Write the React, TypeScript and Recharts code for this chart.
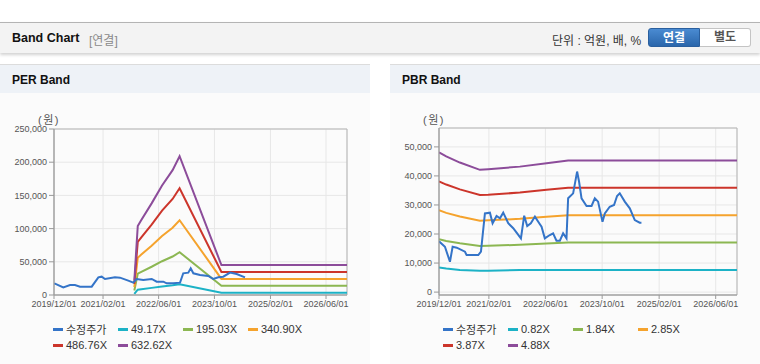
import React from "react";
import { LineChart, Line, XAxis, YAxis, CartesianGrid, ReferenceArea } from "recharts";

type Pt = [string, number];

const X_TICKS = ["2019-12-01", "2021-02-01", "2022-06-01", "2023-10-01", "2025-02-01", "2026-06-01"];
const X_START = "2019-12-01";
const X_END = "2026-12-01";

// PER band
const perPrice: Pt[] = [
  ["2019-12-04", 17600], ["2020-02-20", 11500], ["2020-04-19", 15000], ["2020-06-01", 15000],
  ["2020-07-15", 12500], ["2020-10-25", 12500], ["2020-12-22", 26600], ["2021-01-20", 27600],
  ["2021-02-18", 24100], ["2021-05-16", 26600], ["2021-06-29", 26100], ["2021-09-09", 21600],
  ["2021-10-23", 18600], ["2021-11-22", 24100], ["2022-01-18", 22600], ["2022-04-02", 24100],
  ["2022-05-15", 20000], ["2022-07-12", 20000], ["2022-08-10", 17600], ["2022-10-07", 17600],
  ["2022-12-05", 18600], ["2023-01-02", 32700], ["2023-02-15", 33700], ["2023-03-08", 40200],
  ["2023-03-31", 32700], ["2023-05-28", 30100], ["2023-08-08", 28600], ["2023-09-21", 24100],
  ["2023-11-04", 26600], ["2023-12-17", 27600], ["2024-02-14", 33700], ["2024-04-12", 31600],
  ["2024-06-24", 26600],
];
const perBandDates = ["2021-11-01", "2021-12-01", "2022-01-01", "2022-04-01", "2022-07-01", "2022-10-01", "2022-12-01", "2023-12-01", "2026-12-01"];
const per49 = [1690, 8080, 8780, 10720, 12820, 14610, 16240, 3500, 3500];
const per195 = [6690, 32060, 34830, 42540, 50870, 57960, 64440, 13870, 13870];
const per340 = [11690, 56040, 60880, 74350, 88910, 101320, 112630, 24240, 24240];
const per486 = [16700, 80020, 86940, 106160, 126950, 144670, 160830, 34610, 34610];
const per632 = [21700, 104000, 113000, 138000, 165000, 188000, 209000, 45000, 45000];

// PBR band
const pbrPrice: Pt[] = [
  ["2019-12-01", 17500], ["2020-01-21", 15600], ["2020-03-04", 10450], ["2020-03-27", 15600],
  ["2020-05-01", 15300], ["2020-07-11", 13900], ["2020-07-25", 12750], ["2020-11-02", 12750],
  ["2020-11-25", 13900], ["2020-12-29", 27100], ["2021-02-10", 27350], ["2021-03-05", 23700],
  ["2021-04-08", 26200], ["2021-05-07", 25400], ["2021-06-04", 27350], ["2021-07-17", 23700],
  ["2021-08-29", 22000], ["2021-11-03", 18500], ["2021-12-01", 26300], ["2021-12-27", 22750],
  ["2022-01-27", 23700], ["2022-03-03", 26000], ["2022-04-09", 23700], ["2022-04-29", 22500],
  ["2022-05-27", 18500], ["2022-07-09", 19650], ["2022-08-06", 20250], ["2022-09-04", 17700],
  ["2022-10-03", 17700], ["2022-10-31", 20250], ["2022-11-29", 18500], ["2022-12-13", 32300],
  ["2023-01-25", 34000], ["2023-02-28", 41500], ["2023-03-17", 38000], ["2023-04-07", 32300],
  ["2023-05-20", 29650], ["2023-07-02", 29650], ["2023-07-30", 32300], ["2023-08-27", 31150],
  ["2023-10-04", 24250], ["2023-10-24", 27100], ["2023-12-05", 29400], ["2024-01-11", 30000],
  ["2024-02-06", 33100], ["2024-02-29", 34000], ["2024-04-12", 31150], ["2024-05-25", 28850],
  ["2024-07-07", 24800], ["2024-08-18", 23900], ["2024-09-02", 23900],
];
const pbrBandDates = ["2019-12-01", "2020-02-01", "2020-05-28", "2020-11-16", "2021-01-26", "2021-10-25", "2022-06-11", "2022-12-13", "2026-12-01"];
const pbr082 = [8500, 8100, 7600, 7350, 7350, 7650, 7650, 7650, 7650];
const pbr184 = [18200, 17610, 16810, 15870, 15950, 16290, 16740, 17080, 17080];
const pbr285 = [28200, 27270, 26050, 24590, 24700, 25230, 25930, 26500, 26500];
const pbr387 = [38100, 37030, 35370, 33450, 33540, 34260, 35210, 35950, 35950];
const pbr488 = [48100, 46700, 44600, 42100, 42300, 43200, 44400, 45300, 45300];

const COLORS = {
  price: "#3474c8",
  b1: "#1cb2c6",
  b2: "#8cb752",
  b3: "#f5a32d",
  b4: "#cc352b",
  b5: "#8c4c9a",
};

const toTs = (s: string) => {
  const [y, m, d] = s.split("-").map(Number);
  return Date.UTC(y, m - 1, d);
};
const pad = (n: number) => (n < 10 ? "0" + n : "" + n);
const fmtDate = (t: number) => {
  const d = new Date(t);
  return `${d.getUTCFullYear()}/${pad(d.getUTCMonth() + 1)}/${pad(d.getUTCDate())}`;
};
const fromPairs = (p: Pt[]) => p.map(([s, v]) => ({ t: toTs(s), v }));
const fromCols = (dates: string[], vals: number[]) => dates.map((s, i) => ({ t: toTs(s), v: vals[i] }));

interface Series {
  name: string;
  color: string;
  data: { t: number; v: number }[];
}

const FONT = '"Liberation Sans", Arial, "Noto Sans CJK KR", sans-serif';
const tickStyle = { fill: "#555", fontSize: 9, fontFamily: FONT };

function BandPanel({
  left,
  title,
  series,
  yDomain,
  yTicks,
  yWidth,
  top,
}: {
  left: number;
  title: string;
  series: Series[];
  yDomain: [number, number];
  yTicks: number[];
  yWidth: number;
  top: number;
}) {
  const xMin = toTs(X_START);
  const xMax = toTs(X_END);
  // band lines first, price line on top
  const drawOrder = [...series.slice(1), series[0]];
  return (
    <div
      style={{
        position: "absolute",
        left,
        top: 64,
        width: 370,
        height: 299,
        background: "#fbfbfb",
        borderTop: "1px solid #dcdcdc",
        borderBottom: "1px solid #d4d4d4",
      }}
    >
      <div
        style={{
          height: 28,
          background: "#eef2f7",
          fontFamily: FONT,
          fontWeight: "bold",
          fontSize: 12,
          color: "#111",
          lineHeight: "30px",
          paddingLeft: 12,
        }}
      >
        {title}
      </div>
      <span
        style={{
          position: "absolute",
          left: yWidth - 16,
          top: 46,
          fontFamily: FONT,
          fontSize: 11,
          color: "#555",
          letterSpacing: 1.5,
        }}
      >
        (원)
      </span>
      <div style={{ position: "absolute", left: 0, top: 35 }}>
        <LineChart width={370} height={220} margin={{ top, right: 23, bottom: 0, left: 0 }}>
          <CartesianGrid stroke="#e7e7e7" />
          <ReferenceArea
            x1={xMin}
            x2={xMax}
            y1={yDomain[0]}
            y2={yDomain[1]}
            fill="none"
            fillOpacity={0}
            stroke="#b5b5b5"
            strokeOpacity={1}
          />
          <XAxis
            type="number"
            dataKey="t"
            domain={[xMin, xMax]}
            ticks={X_TICKS.map(toTs)}
            tickFormatter={fmtDate}
            interval={0}
            height={25}
            tickSize={4}
            tick={tickStyle}
            stroke="#999"
            allowDataOverflow
          />
          <YAxis
            type="number"
            dataKey="v"
            domain={yDomain}
            ticks={yTicks}
            tickFormatter={(v: number) => v.toLocaleString("en-US")}
            interval={0}
            width={yWidth}
            tickSize={5}
            tick={tickStyle}
            stroke="#999"
            allowDataOverflow
          />
          {drawOrder.map((s) => (
            <Line
              key={s.name}
              data={s.data}
              dataKey="v"
              name={s.name}
              type="linear"
              stroke={s.color}
              strokeWidth={2}
              dot={false}
              activeDot={false}
              isAnimationActive={false}
            />
          ))}
        </LineChart>
      </div>
      <div
        style={{
          position: "absolute",
          left: 53,
          top: 256,
          width: 300,
          display: "flex",
          flexWrap: "wrap",
          fontFamily: FONT,
          fontSize: 11,
          color: "#333",
        }}
      >
        {series.map((s) => (
          <div key={s.name} style={{ width: 65, height: 16, display: "flex", alignItems: "center" }}>
            <span style={{ display: "inline-block", width: 10, height: 3, background: s.color, marginRight: 3 }} />
            <span>{s.name}</span>
          </div>
        ))}
      </div>
    </div>
  );
}

export default function App() {
  const perSeries: Series[] = [
    { name: "수정주가", color: COLORS.price, data: fromPairs(perPrice) },
    { name: "49.17X", color: COLORS.b1, data: fromCols(perBandDates, per49) },
    { name: "195.03X", color: COLORS.b2, data: fromCols(perBandDates, per195) },
    { name: "340.90X", color: COLORS.b3, data: fromCols(perBandDates, per340) },
    { name: "486.76X", color: COLORS.b4, data: fromCols(perBandDates, per486) },
    { name: "632.62X", color: COLORS.b5, data: fromCols(perBandDates, per632) },
  ];
  const pbrSeries: Series[] = [
    { name: "수정주가", color: COLORS.price, data: fromPairs(pbrPrice) },
    { name: "0.82X", color: COLORS.b1, data: fromCols(pbrBandDates, pbr082) },
    { name: "1.84X", color: COLORS.b2, data: fromCols(pbrBandDates, pbr184) },
    { name: "2.85X", color: COLORS.b3, data: fromCols(pbrBandDates, pbr285) },
    { name: "3.87X", color: COLORS.b4, data: fromCols(pbrBandDates, pbr387) },
    { name: "4.88X", color: COLORS.b5, data: fromCols(pbrBandDates, pbr488) },
  ];

  return (
    <div style={{ position: "absolute", left: 0, top: 0, width: 760, height: 364, background: "#fff", overflow: "hidden" }}>
      {/* top header bar */}
      <div
        style={{
          position: "absolute",
          left: 0,
          top: 22,
          width: 760,
          height: 30,
          background: "#f3f3f3",
          borderTop: "1px solid #b4b4b4",
          boxShadow: "0 2px 3px rgba(0,0,0,0.18)",
          fontFamily: FONT,
        }}
      >
        <span style={{ position: "absolute", left: 12, top: 8, fontSize: 12.5, fontWeight: "bold", color: "#111" }}>
          Band Chart
        </span>
        <span style={{ position: "absolute", left: 89, top: 8, fontSize: 12, color: "#8a8a8a" }}>[연결]</span>
        <span style={{ position: "absolute", left: 552, top: 8, fontSize: 12, color: "#333" }}>단위 : 억원, 배, %</span>
        <div
          style={{
            position: "absolute",
            left: 648,
            top: 5,
            width: 52,
            height: 19,
            background: "linear-gradient(#4a8bd2, #2a66ab)",
            border: "1px solid #2a5f9e",
            borderRadius: "3px 0 0 3px",
            color: "#fff",
            fontWeight: "bold",
            fontSize: 12,
            textAlign: "center",
            lineHeight: "19px",
            boxSizing: "border-box",
          }}
        >
          연결
        </div>
        <div
          style={{
            position: "absolute",
            left: 700,
            top: 5,
            width: 51,
            height: 19,
            background: "#fff",
            border: "1px solid #c4c4c4",
            borderLeft: "none",
            borderRadius: "0 3px 3px 0",
            color: "#555",
            fontWeight: "bold",
            fontSize: 12,
            textAlign: "center",
            lineHeight: "17px",
            boxSizing: "border-box",
          }}
        >
          별도
        </div>
      </div>

      <BandPanel
        left={0}
        title="PER Band"
        series={perSeries}
        yDomain={[0, 250000]}
        yTicks={[0, 50000, 100000, 150000, 200000, 250000]}
        yWidth={54}
        top={29}
      />
      <BandPanel
        left={390}
        title="PBR Band"
        series={pbrSeries}
        yDomain={[-1000, 56500]}
        yTicks={[0, 10000, 20000, 30000, 40000, 50000]}
        yWidth={49}
        top={28}
      />
    </div>
  );
}
